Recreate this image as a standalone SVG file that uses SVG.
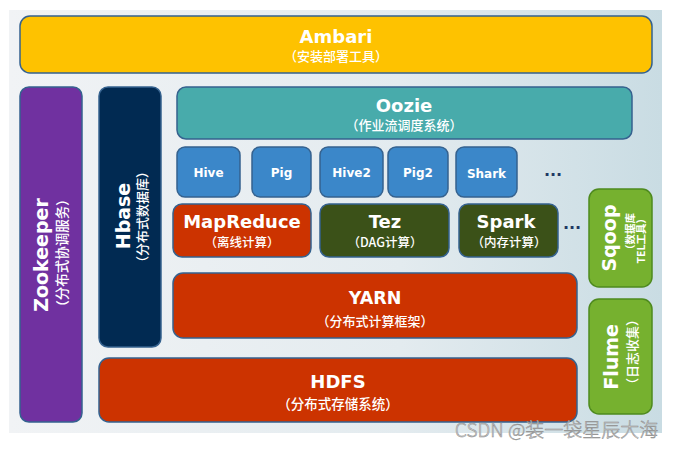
<svg xmlns="http://www.w3.org/2000/svg" width="681" height="449" viewBox="0 0 681 449">
<defs>
<linearGradient id="bg" x1="0" y1="0" x2="1" y2="0">
<stop offset="0" stop-color="#F1F3F5"/>
<stop offset="0.6" stop-color="#E3EBEF"/>
<stop offset="1" stop-color="#C9DCE3"/>
</linearGradient>
<style>
.box{stroke:#35628F;stroke-width:1.5}
.t{font-family:"DejaVu Sans","Liberation Sans",sans-serif;font-weight:bold;fill:#fff;text-anchor:middle}
.s{font-family:"Noto Sans CJK SC","DejaVu Sans",sans-serif;font-weight:500;fill:#fff;text-anchor:middle}
.dots{font-family:"DejaVu Sans",sans-serif;font-weight:bold;fill:#1F3864;text-anchor:middle;font-size:16px}
.yellow{fill:#FEC200}
.purple{fill:#7031A0}
.navy{fill:#012A52}
.teal{fill:#48ABAB}
.blue{fill:#3B87C9}
.red{fill:#CC3300}
.dgreen{fill:#3B5118}
.lgreen{fill:#76B12F;stroke:#4E8A1E}
</style>
</defs>
<rect x="9" y="10" width="653" height="423" fill="url(#bg)"/>

<g id="ambari">
<rect class="box yellow" x="20" y="16" width="632" height="57" rx="10"/>
<text class="t" x="336" y="43" font-size="18">Ambari</text>
<text class="s" x="336" y="61" font-size="13">（安装部署工具）</text>
</g>

<g id="zookeeper">
<rect class="box purple" x="20" y="87" width="62" height="335" rx="9"/>
<text class="t" transform="translate(48,255) rotate(-90)" font-size="19">Zookeeper</text>
<text class="s" transform="translate(67,253) rotate(-90)" font-size="13.5">（分布式协调服务）</text>
</g>

<g id="hbase">
<rect class="box navy" x="99" y="87" width="62" height="260" rx="9"/>
<text class="t" transform="translate(130,216) rotate(-90)" font-size="19">Hbase</text>
<text class="s" transform="translate(147,217) rotate(-90)" font-size="13">（分布式数据库）</text>
</g>

<g id="oozie">
<rect class="box teal" x="177" y="87" width="455" height="52" rx="9"/>
<text class="t" x="404" y="112" font-size="18">Oozie</text>
<text class="s" x="404" y="130" font-size="13">（作业流调度系统）</text>
</g>

<g id="hive">
<rect class="box blue" x="177" y="147" width="63" height="50" rx="8"/>
<text class="t" x="208.5" y="177" font-size="12">Hive</text>
</g>
<g id="pig">
<rect class="box blue" x="252" y="147" width="59" height="50" rx="8"/>
<text class="t" x="281.5" y="177" font-size="12">Pig</text>
</g>
<g id="hive2">
<rect class="box blue" x="320" y="147" width="63" height="50" rx="8"/>
<text class="t" x="351.5" y="177" font-size="12">Hive2</text>
</g>
<g id="pig2">
<rect class="box blue" x="388" y="147" width="60" height="50" rx="8"/>
<text class="t" x="418" y="177" font-size="12">Pig2</text>
</g>
<g id="shark">
<rect class="box blue" x="456" y="147" width="61" height="50" rx="8"/>
<text class="t" x="486.5" y="178" font-size="12">Shark</text>
</g>

<g id="mapreduce">
<rect class="box red" x="173" y="204" width="138" height="53" rx="9"/>
<text class="t" x="242" y="228" font-size="18">MapReduce</text>
<text class="s" x="242" y="247" font-size="12.5">（离线计算）</text>
</g>
<g id="tez">
<rect class="box dgreen" x="320" y="204" width="129" height="53" rx="9"/>
<text class="t" x="385" y="228" font-size="18">Tez</text>
<text class="s" x="385" y="247" font-size="12.5">（DAG计算）</text>
</g>
<g id="spark">
<rect class="box dgreen" x="459" y="204" width="99" height="53" rx="9"/>
<text class="t" x="506" y="228" font-size="18">Spark</text>
<text class="s" x="509" y="247" font-size="12.5">（内存计算）</text>
</g>

<g id="yarn">
<rect class="box red" x="173" y="273" width="404" height="65" rx="10"/>
<text class="t" x="375" y="304" font-size="17.5">YARN</text>
<text class="s" x="375" y="326" font-size="13">（分布式计算框架）</text>
</g>

<g id="hdfs">
<rect class="box red" x="99" y="358" width="478" height="64" rx="10"/>
<text class="t" x="338" y="388" font-size="18">HDFS</text>
<text class="s" x="338" y="409" font-size="13.5">（分布式存储系统）</text>
</g>

<g id="sqoop">
<rect class="box lgreen" x="589" y="189" width="63" height="98" rx="10"/>
<text class="t" transform="translate(616,238) rotate(-90)" font-size="19">Sqoop</text>
<text class="s" transform="translate(634,213) rotate(-90)" font-size="10.5" style="text-anchor:end;font-weight:bold">（数据库</text>
<text class="s" transform="translate(645,213) rotate(-90)" font-size="10.5" style="text-anchor:end;font-weight:bold">TEL工具）</text>
</g>

<g id="flume">
<rect class="box lgreen" x="589" y="299" width="63" height="115" rx="10"/>
<text class="t" transform="translate(618,357) rotate(-90)" font-size="19">Flume</text>
<text class="s" transform="translate(637,352) rotate(-90)" font-size="13">（日志收集）</text>
</g>

<g id="connectors"></g>

<text class="dots" x="553" y="176">...</text>
<text class="dots" x="572" y="229">...</text>

<text x="455" y="437" font-family="'Noto Sans CJK SC','Liberation Sans',sans-serif" font-weight="300" font-size="19" fill="#DADADA" stroke="#8C8C8C" stroke-width="0.5">CSDN @装一袋星辰大海</text>
</svg>
